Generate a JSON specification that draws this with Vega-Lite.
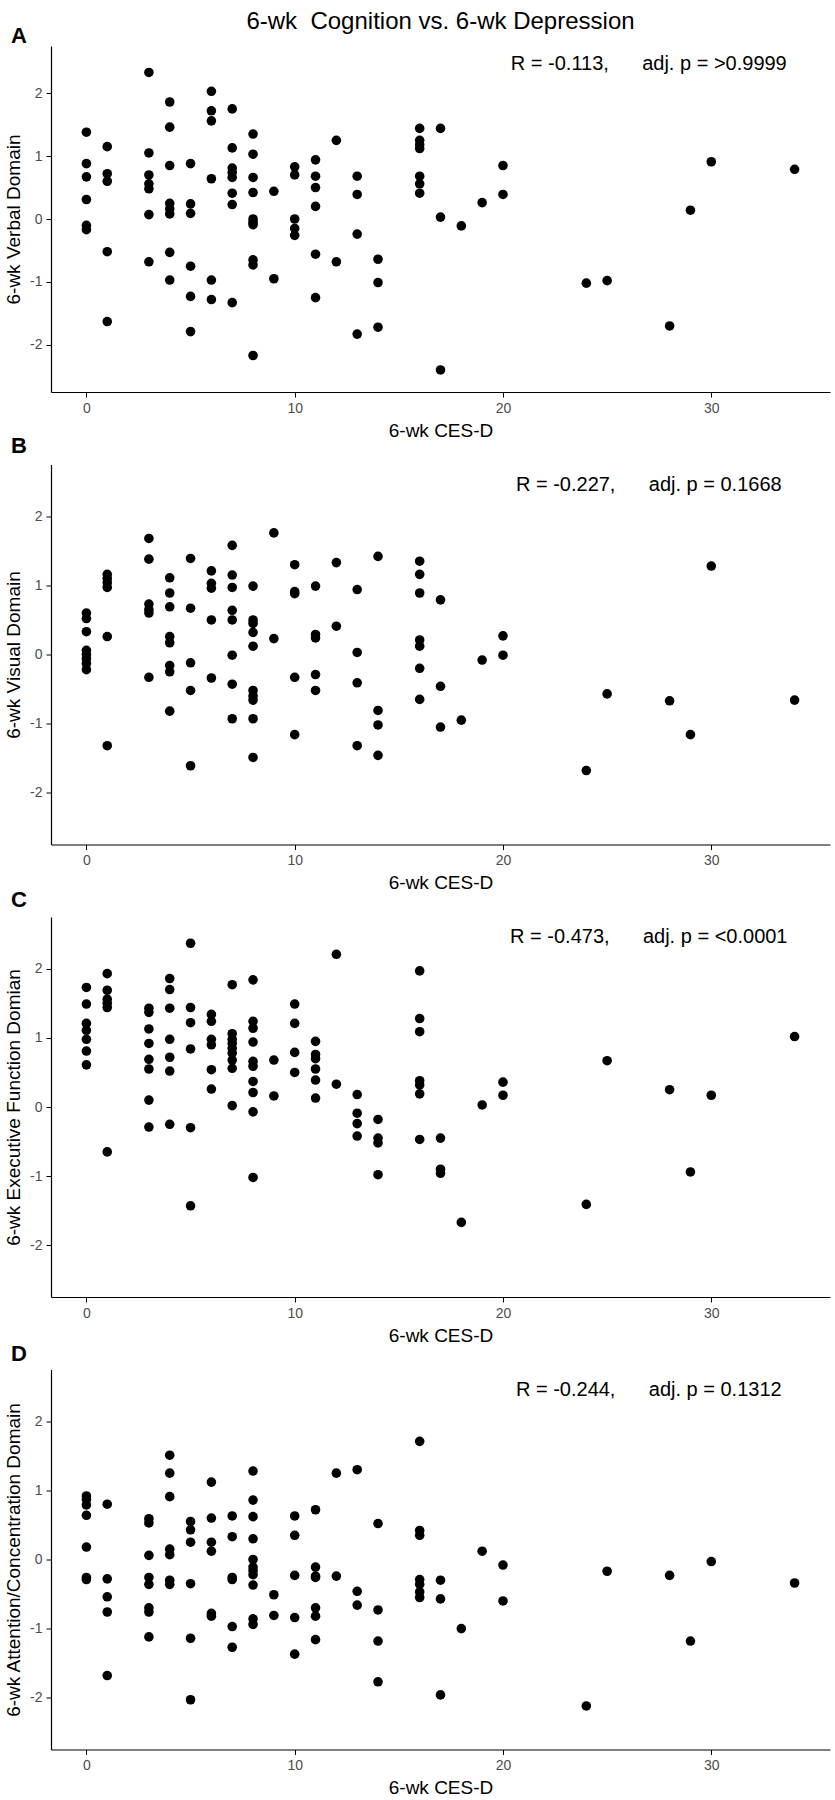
{
  "$schema": "https://vega.github.io/schema/vega-lite/v6.json",
  "padding": {"left": 4, "top": 10, "right": 2, "bottom": 4},
  "background": "white",
  "bounds": "flush",
  "spacing": 72.5,
  "config": {
    "font": "Liberation Sans",
    "view": {"stroke": null},
    "axis": {"grid": false, "domainColor": "black", "domainWidth": 1.2, "tickColor": "black", "tickWidth": 1, "tickSize": 5, "labelColor": "#4d4d4d", "labelFontSize": 14, "labelPadding": 4, "titleFontSize": 19, "titleFontWeight": "normal", "titleColor": "black"},
    "axisX": {"titlePadding": 6},
    "axisY": {"titlePadding": 6},
    "text": {"color": "black", "font": "Liberation Sans"}
  },
  "datasets": {
    "A": [
      {"cesd":0,"score":1.38},{"cesd":0,"score":0.88},{"cesd":0,"score":0.67},{"cesd":0,"score":0.31},{"cesd":0,"score":-0.10},{"cesd":0,"score":-0.17},
      {"cesd":1,"score":1.15},{"cesd":1,"score":0.72},{"cesd":1,"score":0.60},{"cesd":1,"score":-0.52},{"cesd":1,"score":-1.63},
      {"cesd":3,"score":2.33},{"cesd":3,"score":1.05},{"cesd":3,"score":0.70},{"cesd":3,"score":0.56},{"cesd":3,"score":0.48},{"cesd":3,"score":0.07},{"cesd":3,"score":-0.68},
      {"cesd":4,"score":1.86},{"cesd":4,"score":1.46},{"cesd":4,"score":0.85},{"cesd":4,"score":0.25},{"cesd":4,"score":0.16},{"cesd":4,"score":0.08},{"cesd":4,"score":-0.53},{"cesd":4,"score":-0.97},
      {"cesd":5,"score":0.88},{"cesd":5,"score":0.24},{"cesd":5,"score":0.09},{"cesd":5,"score":-0.75},{"cesd":5,"score":-1.23},{"cesd":5,"score":-1.79},
      {"cesd":6,"score":2.03},{"cesd":6,"score":1.72},{"cesd":6,"score":1.56},{"cesd":6,"score":0.64},{"cesd":6,"score":-0.97},{"cesd":6,"score":-1.28},
      {"cesd":7,"score":1.75},{"cesd":7,"score":1.13},{"cesd":7,"score":0.81},{"cesd":7,"score":0.74},{"cesd":7,"score":0.66},{"cesd":7,"score":0.41},{"cesd":7,"score":0.23},{"cesd":7,"score":-1.33},
      {"cesd":8,"score":1.35},{"cesd":8,"score":1.03},{"cesd":8,"score":0.66},{"cesd":8,"score":0.42},{"cesd":8,"score":0.0},{"cesd":8,"score":-0.05},{"cesd":8,"score":-0.09},{"cesd":8,"score":-0.65},{"cesd":8,"score":-0.73},{"cesd":8,"score":-2.17},
      {"cesd":9,"score":0.44},{"cesd":9,"score":-0.95},
      {"cesd":10,"score":0.83},{"cesd":10,"score":0.70},{"cesd":10,"score":0.0},{"cesd":10,"score":-0.15},{"cesd":10,"score":-0.26},
      {"cesd":11,"score":0.94},{"cesd":11,"score":0.68},{"cesd":11,"score":0.50},{"cesd":11,"score":0.20},{"cesd":11,"score":-0.56},{"cesd":11,"score":-1.25},
      {"cesd":12,"score":1.25},{"cesd":12,"score":-0.68},
      {"cesd":13,"score":0.68},{"cesd":13,"score":0.39},{"cesd":13,"score":-0.24},{"cesd":13,"score":-1.83},
      {"cesd":14,"score":-0.64},{"cesd":14,"score":-1.01},{"cesd":14,"score":-1.72},
      {"cesd":16,"score":1.44},{"cesd":16,"score":1.25},{"cesd":16,"score":1.18},{"cesd":16,"score":1.12},{"cesd":16,"score":0.68},{"cesd":16,"score":0.56},{"cesd":16,"score":0.41},
      {"cesd":17,"score":1.44},{"cesd":17,"score":0.03},{"cesd":17,"score":-2.40},
      {"cesd":18,"score":-0.11},{"cesd":19,"score":0.26},{"cesd":20,"score":0.85},{"cesd":20,"score":0.39},
      {"cesd":24,"score":-1.02},{"cesd":25,"score":-0.98},{"cesd":28,"score":-1.70},{"cesd":29,"score":0.14},{"cesd":30,"score":0.91},{"cesd":34,"score":0.79}
    ],
    "B": [
      {"cesd":0,"score":0.60},{"cesd":0,"score":0.52},{"cesd":0,"score":0.33},{"cesd":0,"score":0.06},{"cesd":0,"score":0.0},{"cesd":0,"score":-0.06},{"cesd":0,"score":-0.13},{"cesd":0,"score":-0.22},
      {"cesd":1,"score":1.16},{"cesd":1,"score":1.10},{"cesd":1,"score":1.04},{"cesd":1,"score":0.97},{"cesd":1,"score":0.26},{"cesd":1,"score":-1.32},
      {"cesd":3,"score":1.68},{"cesd":3,"score":1.38},{"cesd":3,"score":0.73},{"cesd":3,"score":0.65},{"cesd":3,"score":0.60},{"cesd":3,"score":-0.33},
      {"cesd":4,"score":1.11},{"cesd":4,"score":0.89},{"cesd":4,"score":0.69},{"cesd":4,"score":0.26},{"cesd":4,"score":0.17},{"cesd":4,"score":-0.16},{"cesd":4,"score":-0.25},{"cesd":4,"score":-0.82},
      {"cesd":5,"score":1.39},{"cesd":5,"score":0.67},{"cesd":5,"score":-0.12},{"cesd":5,"score":-0.52},{"cesd":5,"score":-1.61},
      {"cesd":6,"score":1.21},{"cesd":6,"score":1.03},{"cesd":6,"score":0.96},{"cesd":6,"score":0.50},{"cesd":6,"score":-0.34},
      {"cesd":7,"score":1.58},{"cesd":7,"score":1.15},{"cesd":7,"score":0.97},{"cesd":7,"score":0.64},{"cesd":7,"score":0.50},{"cesd":7,"score":-0.01},{"cesd":7,"score":-0.43},{"cesd":7,"score":-0.93},
      {"cesd":8,"score":0.99},{"cesd":8,"score":0.50},{"cesd":8,"score":0.45},{"cesd":8,"score":0.32},{"cesd":8,"score":0.12},{"cesd":8,"score":-0.52},{"cesd":8,"score":-0.60},{"cesd":8,"score":-0.66},{"cesd":8,"score":-0.93},{"cesd":8,"score":-1.49},
      {"cesd":9,"score":1.76},{"cesd":9,"score":0.23},
      {"cesd":10,"score":1.30},{"cesd":10,"score":0.91},{"cesd":10,"score":0.88},{"cesd":10,"score":-0.33},{"cesd":10,"score":-1.16},
      {"cesd":11,"score":0.99},{"cesd":11,"score":0.29},{"cesd":11,"score":0.24},{"cesd":11,"score":-0.29},{"cesd":11,"score":-0.52},
      {"cesd":12,"score":1.33},{"cesd":12,"score":0.41},
      {"cesd":13,"score":0.94},{"cesd":13,"score":0.03},{"cesd":13,"score":-0.41},{"cesd":13,"score":-1.32},
      {"cesd":14,"score":1.42},{"cesd":14,"score":-0.81},{"cesd":14,"score":-1.02},{"cesd":14,"score":-1.46},
      {"cesd":16,"score":1.35},{"cesd":16,"score":1.16},{"cesd":16,"score":0.89},{"cesd":16,"score":0.21},{"cesd":16,"score":0.12},{"cesd":16,"score":-0.20},{"cesd":16,"score":-0.65},
      {"cesd":17,"score":0.79},{"cesd":17,"score":-0.46},{"cesd":17,"score":-1.05},
      {"cesd":18,"score":-0.95},{"cesd":19,"score":-0.08},{"cesd":20,"score":0.27},{"cesd":20,"score":-0.01},
      {"cesd":24,"score":-1.68},{"cesd":25,"score":-0.57},{"cesd":28,"score":-0.67},{"cesd":29,"score":-1.16},{"cesd":30,"score":1.28},{"cesd":34,"score":-0.66}
    ],
    "C": [
      {"cesd":0,"score":1.73},{"cesd":0,"score":1.49},{"cesd":0,"score":1.21},{"cesd":0,"score":1.11},{"cesd":0,"score":0.98},{"cesd":0,"score":0.81},{"cesd":0,"score":0.61},
      {"cesd":1,"score":1.93},{"cesd":1,"score":1.69},{"cesd":1,"score":1.56},{"cesd":1,"score":1.50},{"cesd":1,"score":1.44},{"cesd":1,"score":-0.65},
      {"cesd":3,"score":1.43},{"cesd":3,"score":1.37},{"cesd":3,"score":1.13},{"cesd":3,"score":0.92},{"cesd":3,"score":0.69},{"cesd":3,"score":0.55},{"cesd":3,"score":0.10},{"cesd":3,"score":-0.29},
      {"cesd":4,"score":1.86},{"cesd":4,"score":1.70},{"cesd":4,"score":1.43},{"cesd":4,"score":0.98},{"cesd":4,"score":0.72},{"cesd":4,"score":0.52},{"cesd":4,"score":-0.25},
      {"cesd":5,"score":2.37},{"cesd":5,"score":1.44},{"cesd":5,"score":1.22},{"cesd":5,"score":0.84},{"cesd":5,"score":-0.30},{"cesd":5,"score":-1.43},
      {"cesd":6,"score":1.34},{"cesd":6,"score":1.24},{"cesd":6,"score":0.98},{"cesd":6,"score":0.90},{"cesd":6,"score":0.54},{"cesd":6,"score":0.26},
      {"cesd":7,"score":1.77},{"cesd":7,"score":1.06},{"cesd":7,"score":0.98},{"cesd":7,"score":0.92},{"cesd":7,"score":0.85},{"cesd":7,"score":0.78},{"cesd":7,"score":0.68},{"cesd":7,"score":0.56},{"cesd":7,"score":0.02},
      {"cesd":8,"score":1.84},{"cesd":8,"score":1.24},{"cesd":8,"score":1.14},{"cesd":8,"score":0.94},{"cesd":8,"score":0.66},{"cesd":8,"score":0.59},{"cesd":8,"score":0.37},{"cesd":8,"score":0.21},{"cesd":8,"score":-0.07},{"cesd":8,"score":-1.02},
      {"cesd":9,"score":0.68},{"cesd":9,"score":0.16},
      {"cesd":10,"score":1.49},{"cesd":10,"score":1.21},{"cesd":10,"score":0.79},{"cesd":10,"score":0.50},
      {"cesd":11,"score":0.95},{"cesd":11,"score":0.76},{"cesd":11,"score":0.70},{"cesd":11,"score":0.55},{"cesd":11,"score":0.39},{"cesd":11,"score":0.13},
      {"cesd":12,"score":2.21},{"cesd":12,"score":0.33},
      {"cesd":13,"score":0.18},{"cesd":13,"score":-0.09},{"cesd":13,"score":-0.24},{"cesd":13,"score":-0.42},
      {"cesd":14,"score":-0.18},{"cesd":14,"score":-0.45},{"cesd":14,"score":-0.52},{"cesd":14,"score":-0.98},
      {"cesd":16,"score":1.97},{"cesd":16,"score":1.28},{"cesd":16,"score":1.09},{"cesd":16,"score":0.38},{"cesd":16,"score":0.32},{"cesd":16,"score":0.19},{"cesd":16,"score":-0.47},
      {"cesd":17,"score":-0.45},{"cesd":17,"score":-0.90},{"cesd":17,"score":-0.96},
      {"cesd":18,"score":-1.67},{"cesd":19,"score":0.03},{"cesd":20,"score":0.36},{"cesd":20,"score":0.17},
      {"cesd":24,"score":-1.41},{"cesd":25,"score":0.67},{"cesd":28,"score":0.25},{"cesd":29,"score":-0.94},{"cesd":30,"score":0.17},{"cesd":34,"score":1.02}
    ],
    "D": [
      {"cesd":0,"score":0.92},{"cesd":0,"score":0.87},{"cesd":0,"score":0.79},{"cesd":0,"score":0.64},{"cesd":0,"score":0.18},{"cesd":0,"score":-0.26},{"cesd":0,"score":-0.29},
      {"cesd":1,"score":0.80},{"cesd":1,"score":-0.28},{"cesd":1,"score":-0.54},{"cesd":1,"score":-0.76},{"cesd":1,"score":-1.68},
      {"cesd":3,"score":0.59},{"cesd":3,"score":0.53},{"cesd":3,"score":0.06},{"cesd":3,"score":-0.26},{"cesd":3,"score":-0.36},{"cesd":3,"score":-0.70},{"cesd":3,"score":-0.76},{"cesd":3,"score":-1.12},
      {"cesd":4,"score":1.51},{"cesd":4,"score":1.25},{"cesd":4,"score":0.91},{"cesd":4,"score":0.15},{"cesd":4,"score":0.07},{"cesd":4,"score":-0.30},{"cesd":4,"score":-0.36},
      {"cesd":5,"score":0.55},{"cesd":5,"score":0.43},{"cesd":5,"score":0.25},{"cesd":5,"score":-0.35},{"cesd":5,"score":-1.14},{"cesd":5,"score":-2.03},
      {"cesd":6,"score":1.12},{"cesd":6,"score":0.60},{"cesd":6,"score":0.25},{"cesd":6,"score":0.12},{"cesd":6,"score":-0.78},{"cesd":6,"score":-0.82},
      {"cesd":7,"score":0.63},{"cesd":7,"score":0.33},{"cesd":7,"score":-0.26},{"cesd":7,"score":-0.29},{"cesd":7,"score":-0.97},{"cesd":7,"score":-1.27},
      {"cesd":8,"score":1.28},{"cesd":8,"score":0.86},{"cesd":8,"score":0.62},{"cesd":8,"score":0.30},{"cesd":8,"score":0.0},{"cesd":8,"score":-0.11},{"cesd":8,"score":-0.16},{"cesd":8,"score":-0.22},{"cesd":8,"score":-0.37},{"cesd":8,"score":-0.86},{"cesd":8,"score":-0.94},
      {"cesd":9,"score":-0.51},{"cesd":9,"score":-0.81},
      {"cesd":10,"score":0.63},{"cesd":10,"score":0.35},{"cesd":10,"score":-0.23},{"cesd":10,"score":-0.84},{"cesd":10,"score":-1.37},
      {"cesd":11,"score":0.72},{"cesd":11,"score":-0.11},{"cesd":11,"score":-0.24},{"cesd":11,"score":-0.26},{"cesd":11,"score":-0.70},{"cesd":11,"score":-0.82},{"cesd":11,"score":-1.16},
      {"cesd":12,"score":1.25},{"cesd":12,"score":-0.24},
      {"cesd":13,"score":1.30},{"cesd":13,"score":-0.46},{"cesd":13,"score":-0.66},
      {"cesd":14,"score":0.52},{"cesd":14,"score":-0.73},{"cesd":14,"score":-1.18},{"cesd":14,"score":-1.77},
      {"cesd":16,"score":1.71},{"cesd":16,"score":0.42},{"cesd":16,"score":0.35},{"cesd":16,"score":-0.29},{"cesd":16,"score":-0.36},{"cesd":16,"score":-0.47},{"cesd":16,"score":-0.55},
      {"cesd":17,"score":-0.30},{"cesd":17,"score":-0.57},{"cesd":17,"score":-1.96},
      {"cesd":18,"score":-1.00},{"cesd":19,"score":0.12},{"cesd":20,"score":-0.08},{"cesd":20,"score":-0.60},
      {"cesd":24,"score":-2.12},{"cesd":25,"score":-0.17},{"cesd":28,"score":-0.23},{"cesd":29,"score":-1.18},{"cesd":30,"score":-0.03},{"cesd":34,"score":-0.34}
    ]
  },
  "vconcat": [
    {
      "width": 779, "height": 346,
      "layer": [
        {"data": {"name": "A"}, "mark": {"type": "circle", "size": 92, "color": "black", "opacity": 1},
         "encoding": {
           "x": {"field": "cesd", "type": "quantitative", "scale": {"domain": [-1.7, 35.7], "nice": false, "zero": false}, "axis": {"values": [0, 10, 20, 30], "title": "6-wk CES-D"}},
           "y": {"field": "score", "type": "quantitative", "scale": {"domain": [-2.75, 2.75], "nice": false, "zero": false}, "axis": {"values": [-2, -1, 0, 1, 2], "format": "d", "title": "6-wk Verbal Domain", "labelExpr": "replace(datum.label, '\u2212', '-')"}}}},
        {"data": {"values": [{"t": "R = -0.113,\u00a0\u00a0\u00a0\u00a0\u00a0\u00a0adj. p = >0.9999"}]}, "mark": {"type": "text", "align": "center", "baseline": "alphabetic", "fontSize": 20},
         "encoding": {"x": {"datum": 27}, "y": {"datum": 2.37}, "text": {"field": "t"}}},
        {"data": {"values": [{"t": "A"}]}, "mark": {"type": "text", "align": "left", "baseline": "alphabetic", "fontSize": 22, "fontWeight": "bold"},
         "encoding": {"x": {"datum": -3.62}, "y": {"datum": 2.8}, "text": {"field": "t"}}},
        {"data": {"values": [{"t": "6-wk\u00a0\u00a0Cognition vs. 6-wk Depression"}]}, "mark": {"type": "text", "align": "center", "baseline": "alphabetic", "fontSize": 24},
         "encoding": {"x": {"datum": 17}, "y": {"datum": 3.02}, "text": {"field": "t"}}}
      ]
    },
    {
      "width": 779, "height": 380,
      "layer": [
        {"data": {"name": "B"}, "mark": {"type": "circle", "size": 92, "color": "black", "opacity": 1},
         "encoding": {
           "x": {"field": "cesd", "type": "quantitative", "scale": {"domain": [-1.7, 35.7], "nice": false, "zero": false}, "axis": {"values": [0, 10, 20, 30], "title": "6-wk CES-D"}},
           "y": {"field": "score", "type": "quantitative", "scale": {"domain": [-2.75, 2.75], "nice": false, "zero": false}, "axis": {"values": [-2, -1, 0, 1, 2], "format": "d", "title": "6-wk Visual Domain", "labelExpr": "replace(datum.label, '\u2212', '-')"}}}},
        {"data": {"values": [{"t": "R = -0.227,\u00a0\u00a0\u00a0\u00a0\u00a0\u00a0adj. p = 0.1668"}]}, "mark": {"type": "text", "align": "center", "baseline": "alphabetic", "fontSize": 20},
         "encoding": {"x": {"datum": 27}, "y": {"datum": 2.37}, "text": {"field": "t"}}},
        {"data": {"values": [{"t": "B"}]}, "mark": {"type": "text", "align": "left", "baseline": "alphabetic", "fontSize": 22, "fontWeight": "bold"},
         "encoding": {"x": {"datum": -3.62}, "y": {"datum": 2.91}, "text": {"field": "t"}}}
      ]
    },
    {
      "width": 779, "height": 380,
      "layer": [
        {"data": {"name": "C"}, "mark": {"type": "circle", "size": 92, "color": "black", "opacity": 1},
         "encoding": {
           "x": {"field": "cesd", "type": "quantitative", "scale": {"domain": [-1.7, 35.7], "nice": false, "zero": false}, "axis": {"values": [0, 10, 20, 30], "title": "6-wk CES-D"}},
           "y": {"field": "score", "type": "quantitative", "scale": {"domain": [-2.75, 2.75], "nice": false, "zero": false}, "axis": {"values": [-2, -1, 0, 1, 2], "format": "d", "title": "6-wk Executive Function Domian", "labelExpr": "replace(datum.label, '\u2212', '-')"}}}},
        {"data": {"values": [{"t": "R = -0.473,\u00a0\u00a0\u00a0\u00a0\u00a0\u00a0adj. p = <0.0001"}]}, "mark": {"type": "text", "align": "center", "baseline": "alphabetic", "fontSize": 20},
         "encoding": {"x": {"datum": 27}, "y": {"datum": 2.37}, "text": {"field": "t"}}},
        {"data": {"values": [{"t": "C"}]}, "mark": {"type": "text", "align": "left", "baseline": "alphabetic", "fontSize": 22, "fontWeight": "bold"},
         "encoding": {"x": {"datum": -3.62}, "y": {"datum": 2.89}, "text": {"field": "t"}}}
      ]
    },
    {
      "width": 779, "height": 380,
      "layer": [
        {"data": {"name": "D"}, "mark": {"type": "circle", "size": 92, "color": "black", "opacity": 1},
         "encoding": {
           "x": {"field": "cesd", "type": "quantitative", "scale": {"domain": [-1.7, 35.7], "nice": false, "zero": false}, "axis": {"values": [0, 10, 20, 30], "title": "6-wk CES-D"}},
           "y": {"field": "score", "type": "quantitative", "scale": {"domain": [-2.75, 2.75], "nice": false, "zero": false}, "axis": {"values": [-2, -1, 0, 1, 2], "format": "d", "title": "6-wk Attention/Concentration Domain", "labelExpr": "replace(datum.label, '\u2212', '-')"}}}},
        {"data": {"values": [{"t": "R = -0.244,\u00a0\u00a0\u00a0\u00a0\u00a0\u00a0adj. p = 0.1312"}]}, "mark": {"type": "text", "align": "center", "baseline": "alphabetic", "fontSize": 20},
         "encoding": {"x": {"datum": 27}, "y": {"datum": 2.37}, "text": {"field": "t"}}},
        {"data": {"values": [{"t": "D"}]}, "mark": {"type": "text", "align": "left", "baseline": "alphabetic", "fontSize": 22, "fontWeight": "bold"},
         "encoding": {"x": {"datum": -3.62}, "y": {"datum": 2.87}, "text": {"field": "t"}}}
      ]
    }
  ]
}
